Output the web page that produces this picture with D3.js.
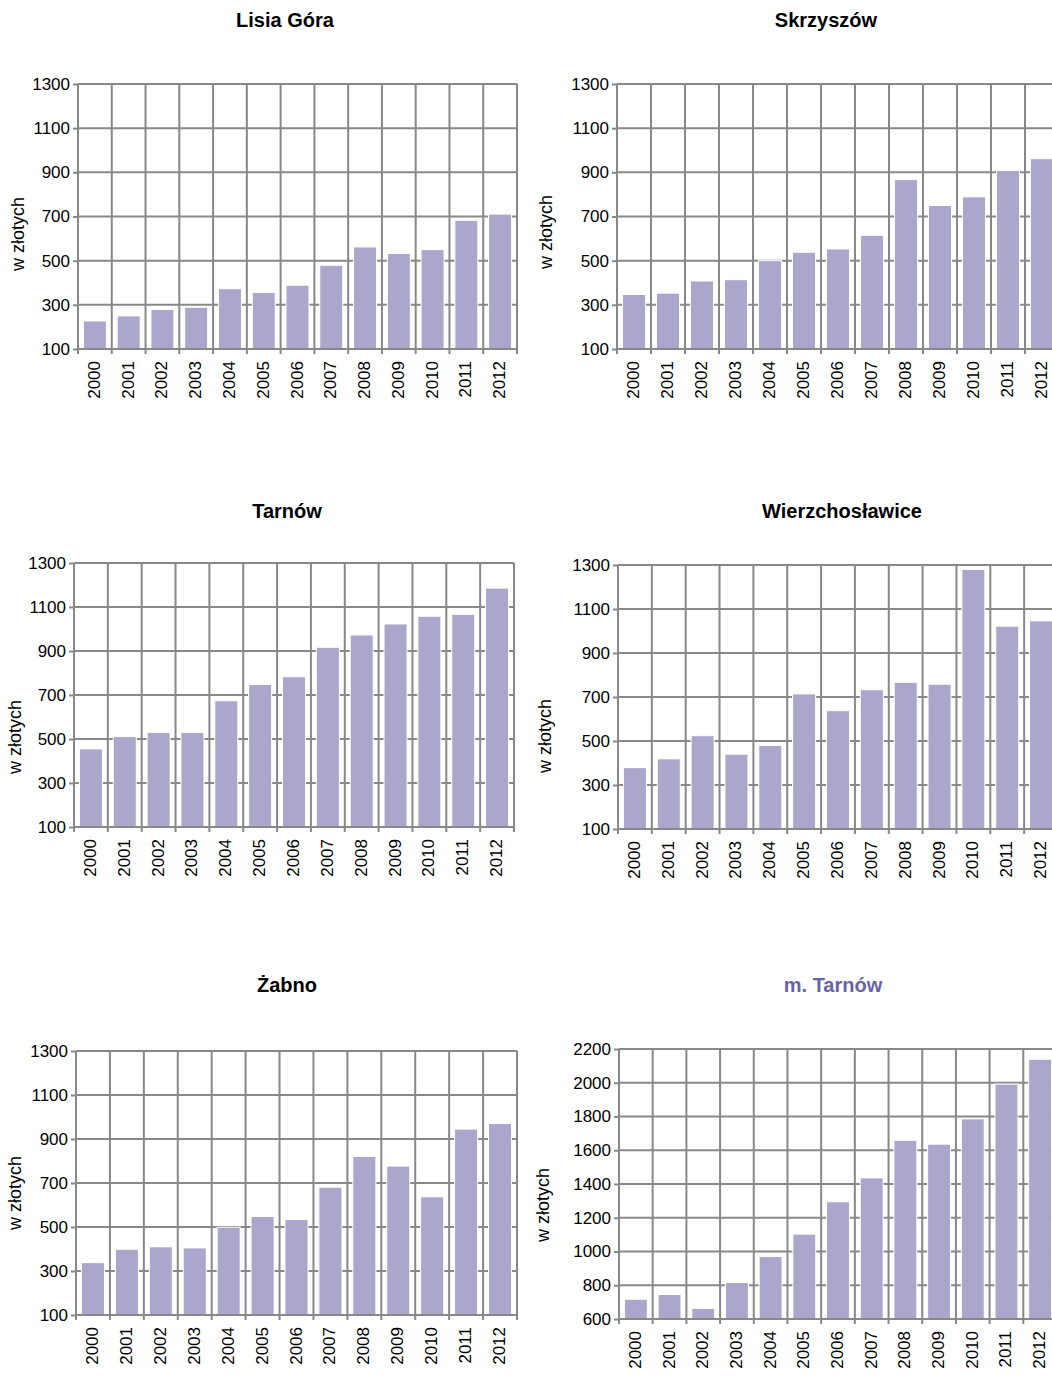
<!DOCTYPE html>
<html>
<head>
<meta charset="utf-8">
<script src="https://cdn.jsdelivr.net/npm/d3@7"></script>
<style>
  html, body { margin: 0; padding: 0; background: #fff; }
  svg { display: block; }
  text { font-family: Arial, "Liberation Sans", sans-serif; }
</style>
</head>
<body>
<svg id="chart" width="1052" height="1379"></svg>
<script>
// ---- data ----
const years = ["2000","2001","2002","2003","2004","2005","2006","2007","2008","2009","2010","2011","2012"];
const titles = ["Lisia Góra", "Skrzyszów", "Tarnów", "Wierzchosławice", "Żabno", "m. Tarnów"];
const lisiaGora      = [227, 250, 279, 289, 373, 356, 389, 479, 562, 533, 550, 683, 711];
const skrzyszow      = [347, 353, 408, 414, 500, 538, 553, 615, 867, 750, 789, 908, 962];
const tarnow         = [455, 511, 530, 530, 674, 748, 783, 917, 973, 1023, 1058, 1067, 1186];
const wierzchoslawice= [379, 419, 524, 440, 480, 714, 638, 733, 767, 758, 1280, 1022, 1046];
const zabno          = [338, 399, 410, 405, 499, 548, 534, 681, 821, 777, 637, 945, 970];
const mTarnow        = [717, 745, 663, 816, 970, 1103, 1295, 1436, 1659, 1636, 1786, 1992, 2139];
const ticksSmall = [100, 300, 500, 700, 900, 1100, 1300];
const ticksLarge = [600, 800, 1000, 1200, 1400, 1600, 1800, 2000, 2200];
const yLabel = "w złotych";

// ---- layout ----
const panels = [
  { title: titles[0], values: lisiaGora,       ticks: ticksSmall, x0: 78,  w: 439, top: 84,   bottom: 349,  tx: 285, ty: 27,  lx: 24,  ly: 234, titleColor: "#000" },
  { title: titles[1], values: skrzyszow,       ticks: ticksSmall, x0: 617, w: 442, top: 84,   bottom: 349,  tx: 826, ty: 27,  lx: 552, ly: 232, titleColor: "#000" },
  { title: titles[2], values: tarnow,          ticks: ticksSmall, x0: 74,  w: 440, top: 563,  bottom: 827,  tx: 287, ty: 518, lx: 21,  ly: 737, titleColor: "#000" },
  { title: titles[3], values: wierzchoslawice, ticks: ticksSmall, x0: 618, w: 440, top: 565,  bottom: 829,  tx: 842, ty: 518, lx: 551, ly: 736, titleColor: "#000" },
  { title: titles[4], values: zabno,           ticks: ticksSmall, x0: 76,  w: 441, top: 1051, bottom: 1315, tx: 287, ty: 992, lx: 21,  ly: 1193, titleColor: "#000" },
  { title: titles[5], values: mTarnow,         ticks: ticksLarge, x0: 619, w: 438, top: 1049, bottom: 1319, tx: 833, ty: 992, lx: 549, ly: 1205, titleColor: "#6a63a8" }
];

const gridColor = "#888888";
const barColor = "#aaa6cc";
const svg = d3.select("#chart");

panels.forEach(p => {
  const g = svg.append("g");
  const ext = d3.extent(p.ticks);
  const y = d3.scaleLinear().domain(ext).range([p.bottom, p.top]);
  const padO = 0.16;
  const x = d3.scaleBand().domain(years).range([p.x0, p.x0 + p.w]).paddingInner(0.32).paddingOuter(padO);
  const step = x.step();
  const bounds = years.map(d => x(d) - step * padO).concat([x(years[years.length - 1]) - step * padO + step]);

  // horizontal grid lines
  g.selectAll("line.hg").data(p.ticks).join("line")
    .attr("x1", p.x0).attr("x2", p.x0 + p.w)
    .attr("y1", d => y(d)).attr("y2", d => y(d))
    .attr("stroke", gridColor).attr("stroke-width", 2);

  // vertical grid lines at category boundaries (with ticks below)
  g.selectAll("line.vg").data(bounds).join("line")
    .attr("x1", d => d).attr("x2", d => d)
    .attr("y1", p.top).attr("y2", p.bottom + 5)
    .attr("stroke", gridColor).attr("stroke-width", 2);

  // bars
  g.selectAll("rect").data(p.values).join("rect")
    .attr("x", (d, i) => x(years[i]))
    .attr("width", x.bandwidth())
    .attr("y", d => y(d))
    .attr("height", d => p.bottom - y(d))
    .attr("fill", barColor)
    .attr("stroke", "#ffffff").attr("stroke-width", 1);

  // y axis
  const ya = g.append("g").attr("transform", `translate(${p.x0},0)`)
    .call(d3.axisLeft(y).tickValues(p.ticks).tickSize(5).tickPadding(3).tickFormat(d3.format("d")));
  ya.select(".domain").attr("stroke", gridColor).attr("stroke-width", 2).attr("d", `M0,${p.top}V${p.bottom}`);
  ya.selectAll(".tick line").attr("stroke", gridColor).attr("stroke-width", 2);
  ya.selectAll(".tick text").attr("fill", "#000").style("font-size", "17px").style("font-family", "Arial, 'Liberation Sans', sans-serif");

  // x axis line
  g.append("line").attr("x1", p.x0).attr("x2", p.x0 + p.w).attr("y1", p.bottom).attr("y2", p.bottom)
    .attr("stroke", gridColor).attr("stroke-width", 2);

  // x labels
  g.selectAll("text.xl").data(years).join("text")
    .attr("class", "xl")
    .attr("transform", d => `translate(${x(d) + x.bandwidth() / 2 + 5},${p.bottom + 12}) rotate(-90)`)
    .attr("text-anchor", "end")
    .style("font-size", "17px")
    .attr("fill", "#000")
    .text(d => d);

  // y axis label
  g.append("text")
    .attr("transform", `translate(${p.lx},${p.ly}) rotate(-90)`)
    .attr("text-anchor", "middle")
    .style("font-size", "18px")
    .attr("fill", "#000")
    .text(yLabel);

  // title
  g.append("text")
    .attr("x", p.tx).attr("y", p.ty)
    .attr("text-anchor", "middle")
    .style("font-size", "20px").style("font-weight", "bold")
    .attr("fill", p.titleColor)
    .text(p.title);
});
</script>
</body>
</html>
